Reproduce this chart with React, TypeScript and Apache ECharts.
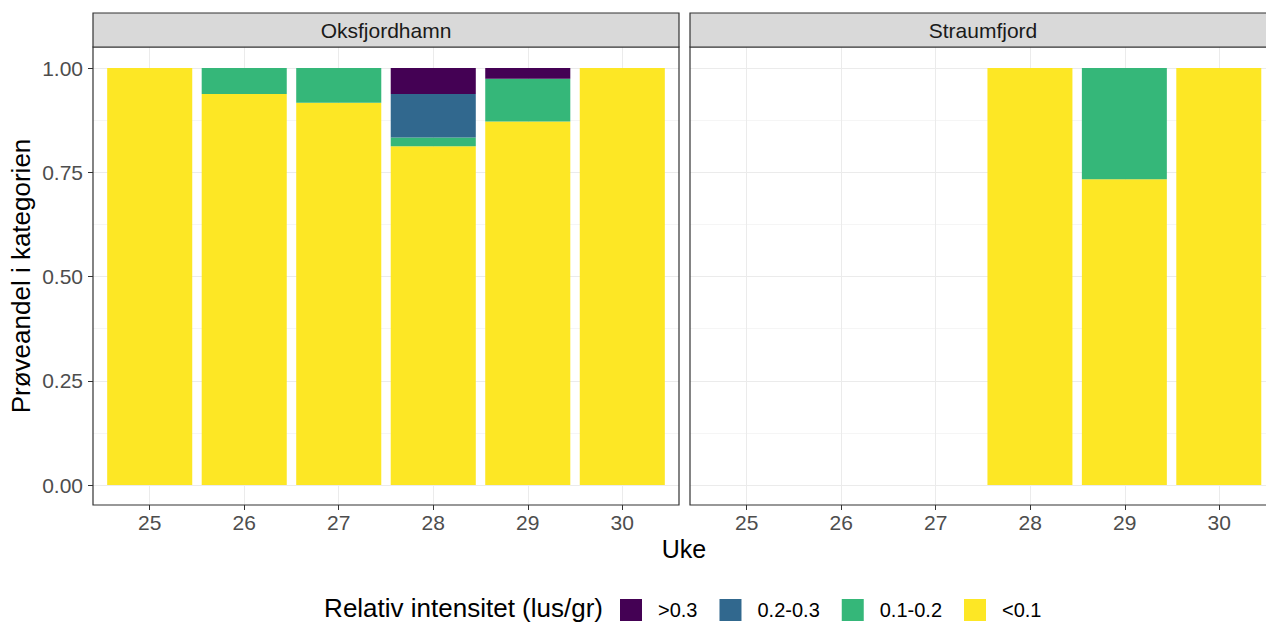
import React, { useEffect, useRef } from "react";
import * as echarts from "echarts";

const weeks = ["25", "26", "27", "28", "29", "30"];
const categories = [">0.3", "0.2-0.3", "0.1-0.2", "<0.1"];
const colors = ["#440154", "#31688E", "#35B779", "#FDE725"];
const facets = ["Oksfjordhamn", "Straumfjord"];

// Oksfjordhamn proportions
const oksGt03 = [0, 0, 0, 0.0625, 0.0256, 0];
const oks0203 = [0, 0, 0, 0.1042, 0, 0];
const oks0102 = [0, 0.0625, 0.0833, 0.0208, 0.1026, 0];
const oksLt01 = [1, 0.9375, 0.9167, 0.8125, 0.8718, 1];

// Straumfjord proportions
const strGt03 = [null, null, null, 0, 0, 0];
const str0203 = [null, null, null, 0, 0, 0];
const str0102 = [null, null, null, 0, 0.2667, 0];
const strLt01 = [null, null, null, 1, 0.7333, 1];

const yTicks = [0, 0.25, 0.5, 0.75, 1];

export default function App() {
  const ref = useRef<HTMLDivElement>(null);
  useEffect(() => {
    document.body.style.margin = "0";
    const chart = echarts.init(ref.current!, null, { renderer: "svg" });
    const font = "Liberation Sans, Arial, sans-serif";
    const panels = [
      { left: 93, width: 586 },
      { left: 690, width: 586 },
    ];
    const outerTop = 47, outerH = 458;
    const innerTop = 68, innerH = 417;
    const band = 586 / 6.2;

    const grids: any[] = [];
    const xAxes: any[] = [];
    const yAxes: any[] = [];
    panels.forEach((p, i) => {
      // grid A: horizontal gridlines + y labels, full panel width, data range 0..1
      grids.push({ left: p.left, width: p.width, top: innerTop, height: innerH });
      xAxes.push({ type: "category", gridIndex: i * 3, data: weeks, show: false });
      yAxes.push({
        type: "value", gridIndex: i * 3, min: 0, max: 1, interval: 0.25,
        axisLine: { show: false },
        axisTick: { show: i === 0, length: 5, lineStyle: { color: "#333333" } },
        axisLabel: {
          show: i === 0, color: "#4D4D4D", fontSize: 21, fontFamily: font, margin: 10,
          formatter: (v: number) => (yTicks.includes(v) ? v.toFixed(2) : ""),
        },
        splitLine: { show: true, lineStyle: { color: "#EBEBEB", width: 1 } },
        minorTick: { show: false, splitNumber: 2 },
        minorSplitLine: { show: true, lineStyle: { color: "#F5F5F5", width: 1 } },
      });
      // grid B: vertical gridlines + x labels at category centres, full panel height
      grids.push({ left: p.left + 0.6 * band, width: 5 * band, top: outerTop, height: outerH });
      xAxes.push({
        type: "category", gridIndex: i * 3 + 1, data: weeks, boundaryGap: false,
        axisLine: { show: false },
        axisTick: { show: true, length: 5, lineStyle: { color: "#333333" } },
        axisLabel: { color: "#4D4D4D", fontSize: 21, fontFamily: font, margin: 7 },
        splitLine: { show: true, lineStyle: { color: "#EBEBEB", width: 1 } },
      });
      yAxes.push({ type: "value", gridIndex: i * 3 + 1, min: 0, max: 1, show: false, splitLine: { show: false } });
      // grid C: bars
      grids.push({ left: p.left + 0.1 * band, width: 6 * band, top: innerTop, height: innerH });
      xAxes.push({ type: "category", gridIndex: i * 3 + 2, data: weeks, show: false });
      yAxes.push({ type: "value", gridIndex: i * 3 + 2, min: 0, max: 1, show: false, splitLine: { show: false } });
    });

    const facetData = [
      [oksGt03, oks0203, oks0102, oksLt01],
      [strGt03, str0203, str0102, strLt01],
    ];
    const series: any[] = [];
    facetData.forEach((fd, fi) => {
      for (let k = categories.length - 1; k >= 0; k--) {
        series.push({
          type: "bar", name: categories[k], xAxisIndex: fi * 3 + 2, yAxisIndex: fi * 3 + 2,
          stack: "s" + fi, data: fd[k], barCategoryGap: "10%",
          itemStyle: { color: colors[k] }, emphasis: { disabled: true },
        });
      }
    });

    const graphic: any[] = [];
    panels.forEach((p, i) => {
      graphic.push({ type: "rect", z: 100, shape: { x: p.left, y: outerTop, width: p.width, height: outerH }, style: { fill: "none", stroke: "#333333", lineWidth: 1.2 } });
      graphic.push({ type: "rect", z: 100, shape: { x: p.left, y: 13, width: p.width, height: 34 }, style: { fill: "#D9D9D9", stroke: "#333333", lineWidth: 1.2 } });
      graphic.push({ type: "text", z: 101, x: p.left + p.width / 2, y: 30, style: { text: facets[i], fill: "#1A1A1A", fontSize: 21, fontFamily: font, textAlign: "center", textVerticalAlign: "middle" } });
    });
    graphic.push({ type: "text", x: 684, y: 549, style: { text: "Uke", fill: "#000", fontSize: 25, fontFamily: font, textAlign: "center", textVerticalAlign: "middle" } });
    graphic.push({ type: "text", x: 21, y: 276, rotation: Math.PI / 2, style: { text: "Prøveandel i kategorien", fill: "#000", fontSize: 26, fontFamily: font, textAlign: "center", textVerticalAlign: "middle" } });
    graphic.push({ type: "text", x: 603, y: 608, style: { text: "Relativ intensitet (lus/gr)", fill: "#000", fontSize: 26, fontFamily: font, textAlign: "right", textVerticalAlign: "middle" } });

    chart.setOption({
      animation: false,
      textStyle: { fontFamily: font },
      grid: grids,
      xAxis: xAxes,
      yAxis: yAxes,
      series,
      graphic,
      legend: {
        data: categories,
        left: 615, top: 594,
        icon: "rect", itemWidth: 22, itemHeight: 22, itemGap: 22,
        textStyle: { color: "#000", fontSize: 20, fontFamily: font, padding: [0, 0, 0, 11] },
        selectedMode: false,
      },
    });
    return () => chart.dispose();
  }, []);
  return <div ref={ref} style={{ width: 1266, height: 623 }} />;
}
